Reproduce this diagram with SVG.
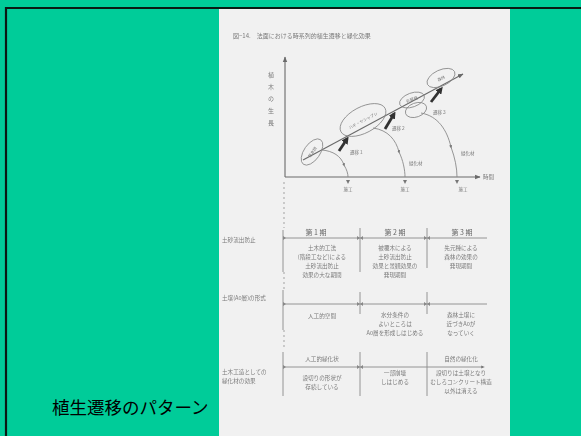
<svg xmlns="http://www.w3.org/2000/svg" width="581" height="436" viewBox="0 0 581 436">
<style>
.t{font-family:"Noto Sans CJK JP","Noto Sans CJK SC",sans-serif;fill:#7a7a7a;font-size:5.6px}
.c{text-anchor:middle}
.h{font-family:"Noto Sans CJK JP",sans-serif;fill:#666;font-size:7px;text-anchor:middle}
.ln{stroke:#8a8a8a;stroke-width:0.9;fill:none}
.ax{stroke:#6a6a6a;stroke-width:1.1;fill:none}
.el{stroke:#888;stroke-width:0.8;fill:none}
.bold{stroke:#333;stroke-width:2.8;fill:none}
.dot{stroke:#999;stroke-width:0.9;stroke-dasharray:2 3;fill:none}
</style>
<defs>
<marker id="ah" viewBox="0 0 10 10" refX="9" refY="5" markerWidth="5" markerHeight="5" orient="auto"><path d="M0,1 L10,5 L0,9 z" fill="#6a6a6a"/></marker>
<marker id="bh" viewBox="0 0 10 10" refX="6" refY="5" markerWidth="2.6" markerHeight="2.6" orient="auto"><path d="M0,0 L10,5 L0,10 z" fill="#333"/></marker>
<marker id="sh" viewBox="0 0 10 10" refX="5" refY="5" markerWidth="4" markerHeight="4" orient="auto"><path d="M0,1 L10,5 L0,9 z" fill="#777"/></marker>
<filter id="blur" x="0" y="0" width="1" height="1"><feGaussianBlur stdDeviation="0.35"/></filter>
</defs>
<rect x="0" y="0" width="581" height="436" fill="#00CC99"/>
<path d="M6,436 L6,8 L581,8" stroke="#0a1a14" stroke-width="2.2" fill="none"/>
<rect x="219" y="9" width="291" height="427" fill="#f1f1f1"/>
<g id="paper" filter="url(#blur)">
<text class="t" x="233" y="38" style="font-size:6px">図−14.　法面における時系列的植生遷移と緑化効果</text>
<g id="chart">
<g id="connectors">
<path class="ax" d="M285,177 L285,57" marker-end="url(#ah)"/>
<path class="ax" d="M285,177 L480,177" marker-end="url(#ah)"/>
<path class="ax" d="M303,160 L463,74" marker-end="url(#ah)"/>
<path class="bold" d="M339,151 L347,139" marker-end="url(#bh)"/>
<path class="bold" d="M385,129 L394,114" marker-end="url(#bh)"/>
<path class="bold" d="M431,102 L441,89" marker-end="url(#bh)"/>
<path class="ln" d="M322,150 C333,151 341,156 344,165" marker-end="url(#sh)"/>
<path class="ln" d="M344,165 C347,170 348,174 348,177"/>
<path class="ln" d="M373,128 C388,130 396,140 399,152" marker-end="url(#sh)"/>
<path class="ln" d="M399,152 C403,160 405,170 405,177"/>
<path class="ln" d="M421,113 C438,116 447,130 451,147" marker-end="url(#sh)"/>
<path class="ln" d="M451,147 C455,158 457,168 457,177"/>
<path d="M346,180 L350,180 L348,184 z M403,180 L407,180 L405,184 z M455,180 L459,180 L457,184 z" fill="#777"/>
</g>
<text class="t" x="271" y="72" style="writing-mode:vertical-rl;font-size:6px;letter-spacing:6px">植木の生長</text>
<g id="e1"><ellipse class="el" cx="312" cy="152" rx="15" ry="8" transform="rotate(-55 312 152)"/><text class="t" x="312" y="154" style="font-size:4px" text-anchor="middle" transform="rotate(-55 312 152)">草本類</text></g>
<g id="e2"><ellipse class="el" cx="363" cy="120" rx="25" ry="13" transform="rotate(-28 363 120)"/><text class="t" x="363" y="122" style="font-size:4px" text-anchor="middle" transform="rotate(-28 363 120)">ハギ・ヤシャブシ</text></g>
<g id="e3"><ellipse class="el" cx="412" cy="100" rx="13" ry="7" transform="rotate(-20 412 100)"/><text class="t" x="412" y="101" style="font-size:4px" text-anchor="middle" transform="rotate(-20 412 100)">先駆種</text></g>
<g id="e4"><ellipse class="el" cx="416" cy="110" rx="11" ry="7" transform="rotate(-20 416 110)"/></g>
<g id="e5"><ellipse class="el" cx="441" cy="78" rx="15" ry="8" transform="rotate(-25 441 78)"/><text class="t" x="441" y="80" style="font-size:4px" text-anchor="middle" transform="rotate(-25 441 78)">森林</text></g>
<text class="t" x="350" y="154" style="font-size:4.5px">遷移１</text>
<text class="t" x="392" y="130" style="font-size:4.5px">遷移２</text>
<text class="t" x="433" y="114" style="font-size:4.5px">遷移３</text>
<text class="t" x="409" y="165" style="font-size:4.5px">緑化材</text>
<text class="t" x="461" y="155" style="font-size:4.5px">緑化材</text>
<text class="t c" x="348" y="191" style="font-size:4.5px">施工</text>
<text class="t c" x="405" y="191" style="font-size:4.5px">施工</text>
<text class="t c" x="463" y="191" style="font-size:4.5px">施工</text>
<text class="t" x="483" y="179" style="font-size:5.5px">時間</text>
</g>
<g id="table">
<path class="dot" d="M284,182 L284,228 M284,272 L284,292 M284,330 L284,350"/>
<path class="ln" d="M283,238 L487,238 M283,304 L487,304"/>
<path class="ln" d="M283,367 L483,367" marker-end="url(#sh)"/>
<path class="ln" d="M283,230 L283,272 M360,228 L360,272 M427,228 L427,268 M283,290 L283,330 M360,292 L360,314 M427,292 L427,314 M283,352 L283,396 M360,352 L360,396 M427,352 L427,396"/>
<path d="M283,236 L286,238 L283,240 z M357,236 L360,238 L357,240 z M363,236 L360,238 L363,240 z M424,236 L427,238 L424,240 z M430,236 L427,238 L430,240 z M283,302 L286,304 L283,306 z M357,302 L360,304 L357,306 z M363,302 L360,304 L363,306 z M424,302 L427,304 L424,306 z M430,302 L427,304 L430,306 z M283,365 L286,367 L283,369 z M357,365 L360,367 L357,369 z M363,365 L360,367 L363,369 z" fill="#888"/>
<text class="t" x="222" y="242">土砂流出防止</text>
<text class="h" x="316" y="235">第 1 期</text>
<text class="h" x="395" y="235">第 2 期</text>
<text class="h" x="462" y="235">第 3 期</text>
<text class="t c" x="322" y="250">土木的工法</text>
<text class="t c" x="322" y="259">(階段工など)による</text>
<text class="t c" x="322" y="268">土砂流出防止</text>
<text class="t c" x="322" y="277">効果の大な期間</text>
<text class="t c" x="395" y="250">被覆木による</text>
<text class="t c" x="395" y="259">土砂流出防止</text>
<text class="t c" x="395" y="268">効果と景観効果の</text>
<text class="t c" x="395" y="277">発現期間</text>
<text class="t c" x="461" y="250">先元種による</text>
<text class="t c" x="461" y="259">森林の効果の</text>
<text class="t c" x="461" y="268">発現期間</text>
<text class="t" x="222" y="300">土壌(A0層)の形式</text>
<text class="t c" x="322" y="318">人工的空間</text>
<text class="t c" x="395" y="317">水分条件の</text>
<text class="t c" x="395" y="326">よいところは</text>
<text class="t c" x="395" y="335">A0層を形成しはじめる</text>
<text class="t c" x="461" y="317">森林土壌に</text>
<text class="t c" x="461" y="326">近づきA0が</text>
<text class="t c" x="461" y="335">なっていく</text>
<text class="t" x="222" y="374">土木工造としての</text>
<text class="t" x="222" y="383">緑化材の効果</text>
<text class="t c" x="322" y="361">人工的緑化状</text>
<text class="t c" x="461" y="361">自然の緑化化</text>
<text class="t c" x="322" y="380">設切りの形状が</text>
<text class="t c" x="322" y="389">存続している</text>
<text class="t c" x="395" y="375">一部崩壊</text>
<text class="t c" x="395" y="384">しはじめる</text>
<text class="t c" x="461" y="375">設切りは土壌となり</text>
<text class="t c" x="461" y="384">むしろコンクリート構造</text>
<text class="t c" x="461" y="393">以外は消える</text>
</g>
</g>
<text x="52" y="414" style="font-family:'Noto Sans CJK JP','Noto Sans CJK SC',sans-serif;font-size:17.5px;fill:#000">植生遷移のパターン</text>
</svg>
